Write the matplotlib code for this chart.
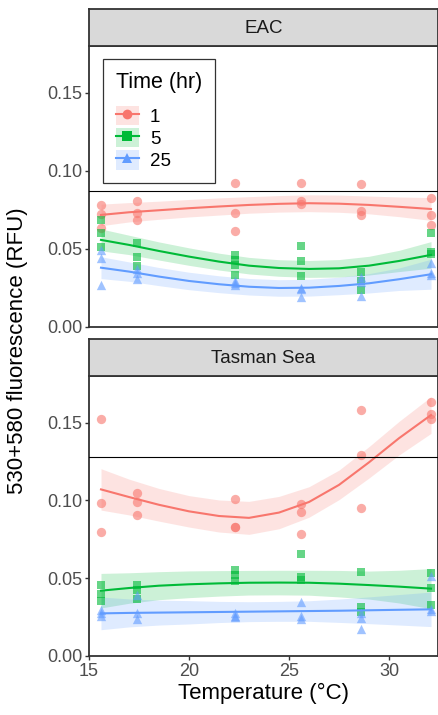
import matplotlib
matplotlib.use('Agg')
import matplotlib.pyplot as plt
import numpy as np
from matplotlib.lines import Line2D
from matplotlib.patches import Patch

plt.rcParams['font.family'] = ['Liberation Sans', 'DejaVu Sans']

# ── data ──
temps = [15.6, 17.4, 22.3, 25.6, 28.6, 32.1]
times = ['1', '5', '25']
colors = ['#F8766D', '#00BA38', '#619CFF']
markers = ['o', 's', '^']

# EAC: replicates per temperature
eac_t1 = [[0.0777, 0.0724, 0.0632], [0.0806, 0.0728, 0.0683], [0.0922, 0.0728, 0.0610],
          [0.0922, 0.0808, 0.0788], [0.0917, 0.0739, 0.0713], [0.0825, 0.0713, 0.0651]]
eac_t5 = [[0.0685, 0.0603, 0.0513], [0.0539, 0.0444, 0.0388], [0.0459, 0.0427, 0.0395, 0.0330],
          [0.0519, 0.0421, 0.0324], [0.0352, 0.0292, 0.0238], [0.0599, 0.0477, 0.0466]]
eac_t25 = [[0.0490, 0.0437, 0.0270], [0.0367, 0.0341, 0.0306], [0.0290, 0.0280, 0.0266],
           [0.0247, 0.0243, 0.0190], [0.0316, 0.0287, 0.0195], [0.0410, 0.0341, 0.0330]]

# Tasman Sea
tas_t1 = [[0.1521, 0.0981, 0.0799], [0.1046, 0.0992, 0.0906], [0.1009, 0.0831, 0.0827],
          [0.0975, 0.0923, 0.0782], [0.1581, 0.1292, 0.0953], [0.1634, 0.1555, 0.1521]]
tas_t5 = [[0.0456, 0.0396, 0.0356], [0.0456, 0.0424, 0.0364], [0.0553, 0.0521, 0.0482],
          [0.0654, 0.0510, 0.0488], [0.0542, 0.0313, 0.0285], [0.0535, 0.0439, 0.0326]]
tas_t25 = [[0.0296, 0.0278, 0.0259], [0.0392, 0.0274, 0.0236], [0.0274, 0.0257, 0.0253],
           [0.0349, 0.0257, 0.0236], [0.0274, 0.0242, 0.0174], [0.0514, 0.0300, 0.0290]]

# smoothed trend and half-width of the shaded band
smooth_x = [15.6, 17, 18.5, 20, 21.5, 23, 24.5, 26, 27.5, 29, 30.5, 32.1]

eac_fit1 = [0.0716, 0.0733, 0.0746, 0.0759, 0.0770, 0.0780, 0.0787, 0.0791, 0.0788, 0.0780, 0.0768, 0.0754]
eac_ci1 = [0.0069, 0.0062, 0.0058, 0.0056, 0.0055, 0.0053, 0.0053, 0.0054, 0.0055, 0.0057, 0.0063, 0.0073]
eac_fit5 = [0.0556, 0.0524, 0.0485, 0.0449, 0.0417, 0.0391, 0.0376, 0.0370, 0.0374, 0.0391, 0.0421, 0.0460]
eac_ci5 = [0.0070, 0.0062, 0.0058, 0.0056, 0.0054, 0.0053, 0.0053, 0.0054, 0.0056, 0.0060, 0.0068, 0.0085]
eac_fit25 = [0.0378, 0.0353, 0.0321, 0.0293, 0.0272, 0.0256, 0.0248, 0.0250, 0.0261, 0.0278, 0.0304, 0.0336]
eac_ci25 = [0.0070, 0.0062, 0.0058, 0.0056, 0.0054, 0.0053, 0.0053, 0.0054, 0.0056, 0.0062, 0.0072, 0.0096]

tas_fit1 = [0.1071, 0.1022, 0.0972, 0.0930, 0.0900, 0.0888, 0.0922, 0.0990, 0.1100, 0.1245, 0.1400, 0.1549]
tas_ci1 = [0.0133, 0.0115, 0.0105, 0.0101, 0.0103, 0.0106, 0.0104, 0.0098, 0.0095, 0.0101, 0.0108, 0.0118]
tas_fit5 = [0.0420, 0.0437, 0.0452, 0.0461, 0.0467, 0.0471, 0.0472, 0.0471, 0.0465, 0.0456, 0.0446, 0.0433]
tas_ci5 = [0.0111, 0.0098, 0.0090, 0.0086, 0.0082, 0.0079, 0.0079, 0.0080, 0.0085, 0.0090, 0.0105, 0.0129]
tas_fit25 = [0.0274, 0.0277, 0.0279, 0.0281, 0.0283, 0.0285, 0.0287, 0.0289, 0.0291, 0.0294, 0.0297, 0.0300]
tas_ci25 = [0.0105, 0.0090, 0.0080, 0.0075, 0.0068, 0.0064, 0.0064, 0.0066, 0.0075, 0.0086, 0.0098, 0.0111]

hline_eac = 0.0872
hline_tas = 0.128

panels = [('EAC', [eac_t1, eac_t5, eac_t25], [eac_fit1, eac_fit5, eac_fit25],
           [eac_ci1, eac_ci5, eac_ci25], hline_eac),
          ('Tasman Sea', [tas_t1, tas_t5, tas_t25], [tas_fit1, tas_fit5, tas_fit25],
           [tas_ci1, tas_ci5, tas_ci25], hline_tas)]


def flatten(groups):
    xs, ys = [], []
    for t, vals in zip(temps, groups):
        xs += [t] * len(vals)
        ys += vals
    return np.array(xs), np.array(ys)


W, H = 439, 715
fig = plt.figure(figsize=(W / 100, H / 100), dpi=100)

left, right = 89, 438
boxes = [(9, 45.7, 326.7), (339, 376, 656)]  # strip top, panel top, panel bottom
edge = '#333333'

for (name, series, fits, cis, hl), (s_top, p_top, p_bot) in zip(panels, boxes):
    ax = fig.add_axes([left / W, 1 - p_bot / H, (right - left) / W, (p_bot - p_top) / H])
    sax = fig.add_axes([left / W, 1 - p_top / H, (right - left) / W, (p_top - s_top) / H])
    sax.set_facecolor('#D9D9D9')
    sax.set_xticks([])
    sax.set_yticks([])
    for sp in sax.spines.values():
        sp.set_color(edge)
        sp.set_linewidth(1.3)
    sax.text(0.5, 0.48, name, ha='center', va='center', fontsize=13.5, color='#1A1A1A',
             transform=sax.transAxes)

    sx = np.array(smooth_x)
    for groups, fit, ci, c, m in zip(series, fits, cis, colors, markers):
        x, y = flatten(groups)
        fit = np.array(fit)
        ci = np.array(ci)
        ax.fill_between(sx, fit - ci, fit + ci, color=c, alpha=0.2, linewidth=0, zorder=1)
        ax.scatter(x, y, color=c, marker=m, s=45 if m != 's' else 36, alpha=0.6,
                   linewidths=0, zorder=2)
        ax.plot(sx, fit, color=c, linewidth=1.5, zorder=3)

    ax.axhline(hl, color='black', linewidth=0.8, zorder=4)
    ax.set_xlim(15, 32.45)
    ax.set_ylim(0, 0.18)
    ax.set_xticks([15, 20, 25, 30])
    ax.set_yticks([0, 0.05, 0.10, 0.15])
    ax.set_yticklabels(['0.00', '0.05', '0.10', '0.15'])
    ax.tick_params(colors=edge, labelcolor='#4D4D4D', labelsize=13, length=3, width=1, pad=2)
    for sp in ax.spines.values():
        sp.set_color(edge)
        sp.set_linewidth(1.3)
    if name == 'EAC':
        ax.set_xticklabels([])
        ax.tick_params(axis='x', length=0)
        handles = [(Patch(facecolor=c, alpha=0.2, edgecolor='none'),
                    Line2D([], [], color=c, linewidth=1.5, marker=m, markersize=7,
                           markerfacecolor=c, markeredgewidth=0))
                   for c, m in zip(colors, markers)]
        leg = ax.legend(handles, times, title='Time (hr)', loc='upper left',
                        bbox_to_anchor=(0.04, 0.953), borderaxespad=0, fontsize=13.5,
                        title_fontsize=15.5, frameon=True, fancybox=False, alignment='left',
                        handlelength=1.2, handleheight=1.25, labelspacing=0.1,
                        borderpad=0.7, handletextpad=0.6)
        leg._legend_box.sep = 9  # extra gap between title and keys
        leg.get_frame().set_edgecolor('black')
        leg.get_frame().set_linewidth(0.9)
    else:
        ax.set_xlabel('Temperature (°C)', fontsize=16, labelpad=2)

fig.text(18 / W, 1 - 351 / H, '530+580 fluorescence (RFU)', rotation=90, ha='center',
         va='center', fontsize=16)

fig.savefig('out.png', dpi=100)
